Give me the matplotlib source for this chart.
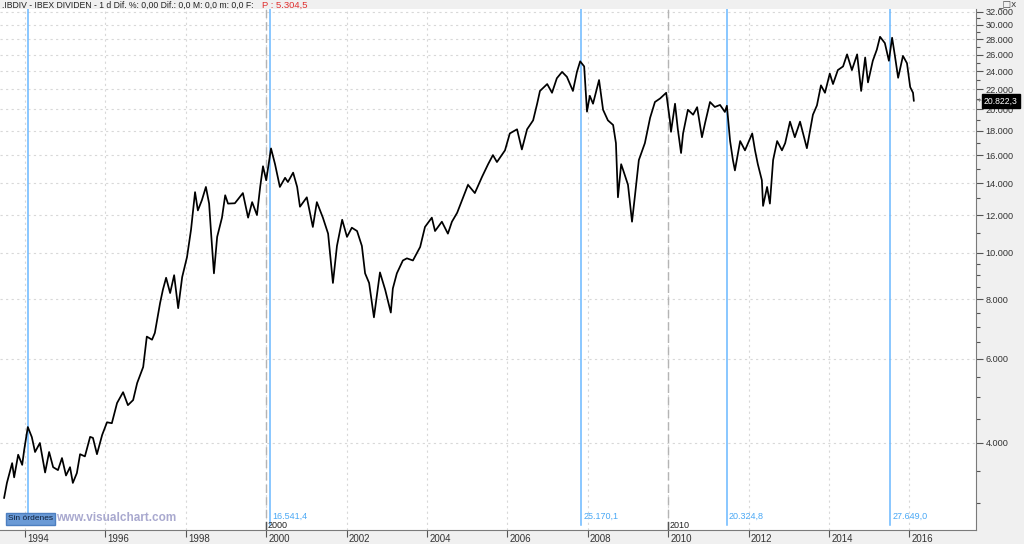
import matplotlib
matplotlib.use("Agg")
import matplotlib.pyplot as plt
from matplotlib.ticker import FixedLocator, NullFormatter

plt.rcParams["font.family"] = ["Liberation Sans", "DejaVu Sans"]

# =========================
# DATA
# =========================
dates = [
    1993.48, 1993.55, 1993.68, 1993.73, 1993.83, 1993.93, 1993.98, 1994.07, 1994.17, 1994.25,
    1994.37, 1994.50, 1994.60, 1994.70, 1994.82, 1994.92, 1995.02, 1995.12, 1995.19, 1995.29,
    1995.37, 1995.49, 1995.62, 1995.69, 1995.79, 1995.92, 1996.04, 1996.16, 1996.29, 1996.44,
    1996.56, 1996.69, 1996.79, 1996.94, 1997.03, 1997.16, 1997.23, 1997.36, 1997.43, 1997.51,
    1997.61, 1997.71, 1997.81, 1997.91, 1998.03, 1998.13, 1998.23, 1998.30, 1998.40, 1998.50,
    1998.58, 1998.63, 1998.70, 1998.78, 1998.90, 1998.98, 1999.05, 1999.22, 1999.42, 1999.55,
    1999.65, 1999.77, 1999.85, 1999.92, 2000.00, 2000.12, 2000.22, 2000.34, 2000.47, 2000.54,
    2000.67, 2000.77, 2000.84, 2001.01, 2001.16, 2001.26, 2001.41, 2001.54, 2001.66, 2001.76,
    2001.89, 2002.01, 2002.13, 2002.26, 2002.38, 2002.46, 2002.56, 2002.68, 2002.83, 2002.96,
    2003.10, 2003.15, 2003.25, 2003.40, 2003.50, 2003.65, 2003.83, 2003.95, 2004.12, 2004.20,
    2004.37, 2004.52, 2004.62, 2004.75, 2004.90, 2005.02, 2005.19, 2005.37, 2005.52, 2005.64,
    2005.74, 2005.94, 2006.06, 2006.24, 2006.36, 2006.49, 2006.64, 2006.74, 2006.81, 2006.99,
    2007.11, 2007.23, 2007.36, 2007.48, 2007.63, 2007.73, 2007.81, 2007.91, 2007.98, 2008.05,
    2008.13, 2008.28, 2008.38, 2008.50, 2008.63, 2008.70, 2008.75, 2008.83, 2008.88, 2009.00,
    2009.10, 2009.17, 2009.27, 2009.42, 2009.55, 2009.67, 2009.80, 2009.95, 2010.04, 2010.07,
    2010.17, 2010.24, 2010.32, 2010.37, 2010.49, 2010.62, 2010.72, 2010.84, 2010.92, 2011.04,
    2011.16, 2011.29, 2011.41, 2011.46, 2011.54, 2011.61, 2011.66, 2011.79, 2011.91, 2012.09,
    2012.16, 2012.23, 2012.33, 2012.36, 2012.46, 2012.53, 2012.61, 2012.71, 2012.83, 2012.91,
    2013.03, 2013.15, 2013.28, 2013.45, 2013.60, 2013.70, 2013.80, 2013.90, 2014.02, 2014.10,
    2014.22, 2014.35, 2014.45, 2014.57, 2014.70, 2014.80, 2014.90, 2014.97, 2015.09, 2015.19,
    2015.27, 2015.39, 2015.49, 2015.57, 2015.64, 2015.72, 2015.84, 2015.94, 2016.02, 2016.09,
    2016.11,
]
prices = [
    3070, 3300, 3630, 3390, 3780, 3600, 3870, 4320, 4115, 3830,
    4000, 3470, 3830, 3560, 3510, 3720, 3420, 3560, 3300, 3460,
    3790, 3750, 4120, 4100, 3790, 4160, 4420, 4400, 4850, 5110,
    4800, 4920, 5340, 5770, 6680, 6580, 6800, 7850, 8370, 8870,
    8240, 8980, 7660, 8900, 9800, 11180, 13400, 12270, 12890, 13740,
    12680, 10970, 9060, 10800, 11850, 13200, 12680, 12700, 13340, 11850,
    12770, 12000, 13740, 15180, 14190, 16540, 15330, 13740, 14360, 14070,
    14720, 13740, 12490, 13070, 11330, 12770, 11850, 10970, 8650, 10340,
    11730, 10800, 11290, 11110, 10340, 9060, 8650, 7330, 9100, 8370,
    7500, 8420, 9060, 9640, 9740, 9640, 10290, 11330, 11850, 11110,
    11620, 10970, 11620, 12130, 13070, 13880, 13340, 14430, 15330, 16020,
    15490, 16390, 17780, 18140, 16460, 18140, 18940, 20520, 21820, 22560,
    21630, 23200, 23920, 23360, 21820, 23920, 25170, 24560, 19750, 21320,
    20520, 23000, 19930, 18940, 18520, 16970, 13070, 15330, 14900, 13880,
    11620, 13100, 15640, 16970, 19170, 20690, 21050, 21630, 19010, 17920,
    20520, 18140, 16180, 17780, 19930, 19460, 20180, 17460, 18740, 20690,
    20200, 20400, 19720, 20320, 17140, 15640, 14880, 17140, 16390, 17780,
    16390, 15330, 14190, 12540, 13740, 12680, 15640, 17140, 16390, 16970,
    18820, 17460, 18820, 16560, 19460, 20350, 22420, 21630, 23730, 22560,
    24130, 24560, 26030, 24130, 26030, 21820, 25640, 22740, 25240, 26630,
    28330, 27480, 25240, 28200, 25840, 23250, 25840, 24940, 22230, 21630,
    20820,
]

year_ticks = [1994, 1996, 1998, 2000, 2002, 2004, 2006, 2008, 2010, 2012, 2014, 2016]
decade_marks = [2000, 2010]
price_ticks = [4000, 6000, 8000, 10000, 12000, 14000, 16000, 18000, 20000,
               22000, 24000, 26000, 28000, 30000, 32000]
minor_ticks = [3000, 3500, 4500, 5000, 5500, 6500, 7000, 7500, 8500, 9000, 9500,
               11000, 13000, 15000, 17000, 19000, 21000, 23000, 25000, 27000,
               29000, 31000]

marker_dates = [1994.07, 2000.10, 2007.84, 2011.46, 2015.53]
marker_values = [None, 16541.4, 25170.1, 20324.8, 27649.0]

last_price = 20822.3
title_text = ".IBDIV - IBEX DIVIDEN - 1 d Dif. %: 0,00 Dif.: 0,0 M: 0,0 m: 0,0 F:"
title_red = "P : 5.304,5"


def es_fmt(v, dec=0):
    s = f"{v:,.{dec}f}"
    return s.replace(",", "X").replace(".", ",").replace("X", ".")


# =========================
# FIGURE
# =========================
W, H = 1024, 544
fig = plt.figure(figsize=(W / 100, H / 100), dpi=100, facecolor="#f0f0f0")
ax = fig.add_axes([0, 14 / H, 976 / W, 521 / H])
ax.set_facecolor("white")

ax.set_yscale("log")
ax.set_xlim(1993.378, 2017.657)
ax.set_ylim(2630, 32390)

# grid
for y in price_ticks:
    ax.axhline(y, color="#d8d8d8", lw=0.8, ls=(0, (2, 3)), zorder=1)
for yr in year_ticks:
    ax.axvline(yr, color="#d8d8d8", lw=0.8, ls=(0, (2, 3)), zorder=1)
for yr in decade_marks:
    ax.axvline(yr, color="#b4b4b4", lw=1.0, ls=(0, (6, 3)), zorder=1)
    ax.axvline(yr, ymin=0, ymax=0.015, color="#555555", lw=1.0, zorder=3)
    ax.annotate(str(yr), xy=(yr, 0), xycoords=("data", "axes fraction"),
                xytext=(1, 0.3), textcoords="offset points",
                ha="left", va="bottom", fontsize=6.5, color="#222222")

# blue markers
for d, v in zip(marker_dates, marker_values):
    ax.axvline(d, ymin=0.01, ymax=1, color="#6ab8ff", lw=1.1, zorder=2)
    if v is not None:
        ax.annotate(es_fmt(v, 1), xy=(d, 0), xycoords=("data", "axes fraction"),
                    xytext=(1.5, 10), textcoords="offset points",
                    ha="left", va="center", fontsize=6.5, color="#4aa8f5")

# price series
ax.plot(dates, prices, color="black", lw=1.25, zorder=4)

# axes styling
for s in ["left", "top"]:
    ax.spines[s].set_visible(False)
ax.spines["right"].set_color("#7a7a7a")
ax.spines["bottom"].set_color("#7a7a7a")

ax.yaxis.tick_right()
ax.yaxis.set_major_locator(FixedLocator(price_ticks))
ax.yaxis.set_minor_locator(FixedLocator(minor_ticks))
ax.yaxis.set_minor_formatter(NullFormatter())
ax.set_yticklabels([es_fmt(v) for v in price_ticks])
ax.tick_params(axis="y", which="major", direction="out", length=5, width=0.8,
               color="#555555", labelsize=6.6, labelcolor="#333333", pad=2)
ax.tick_params(axis="y", which="minor", direction="out", length=3, width=0.8,
               color="#555555")

ax.set_xticks(year_ticks)
ax.set_xticklabels([])
ax.tick_params(axis="x", direction="out", length=5, width=0.8, color="#555555")
for yr in year_ticks:
    ax.annotate(str(yr), xy=(yr, 0), xycoords=("data", "axes fraction"),
                xytext=(1.5, -3.2), textcoords="offset points",
                ha="left", va="top", fontsize=7, color="#333333",
                annotation_clip=False)

# header
t1 = fig.text(2 / W, 1 - 5 / H, title_text, fontsize=6.2, color="#222222",
              ha="left", va="center")
fig.canvas.draw()
end_px = t1.get_window_extent().x1
fig.text(max(end_px + 8, 246) / W, 1 - 5 / H, title_red, fontsize=6.8, color="#e03030",
         ha="left", va="center")
fig.text(998 / W, 1 - 5 / H, "_\u25a1x", fontsize=6.5, color="#444444",
         ha="left", va="center", family="DejaVu Sans")

# last price tag
fig.text(979 / W, 1 - 101 / H, "+", fontsize=6, color="#777777", ha="center", va="center")
fig.text(984 / W, 1 - 101 / H, es_fmt(last_price, 1), fontsize=6.2, color="white",
         ha="left", va="center",
         bbox=dict(facecolor="black", edgecolor="black", boxstyle="square,pad=0.25"))

# footer
sin = fig.text(8 / W, 1 - 519 / H, "Sin órdenes", fontsize=6, color="#10203a",
               ha="left", va="center",
               bbox=dict(facecolor="#6a9ad6", edgecolor="#4d7fc0", boxstyle="square,pad=0.25"))
fig.canvas.draw()
box_end = sin.get_bbox_patch().get_window_extent().x1
fig.text((box_end + 1) / W, 1 - 518 / H, "www.visualchart.com", fontsize=8.5,
         fontweight="bold", color="#a9a9cf", ha="left", va="center")

fig.savefig("out.png", dpi=100, facecolor=fig.get_facecolor())
